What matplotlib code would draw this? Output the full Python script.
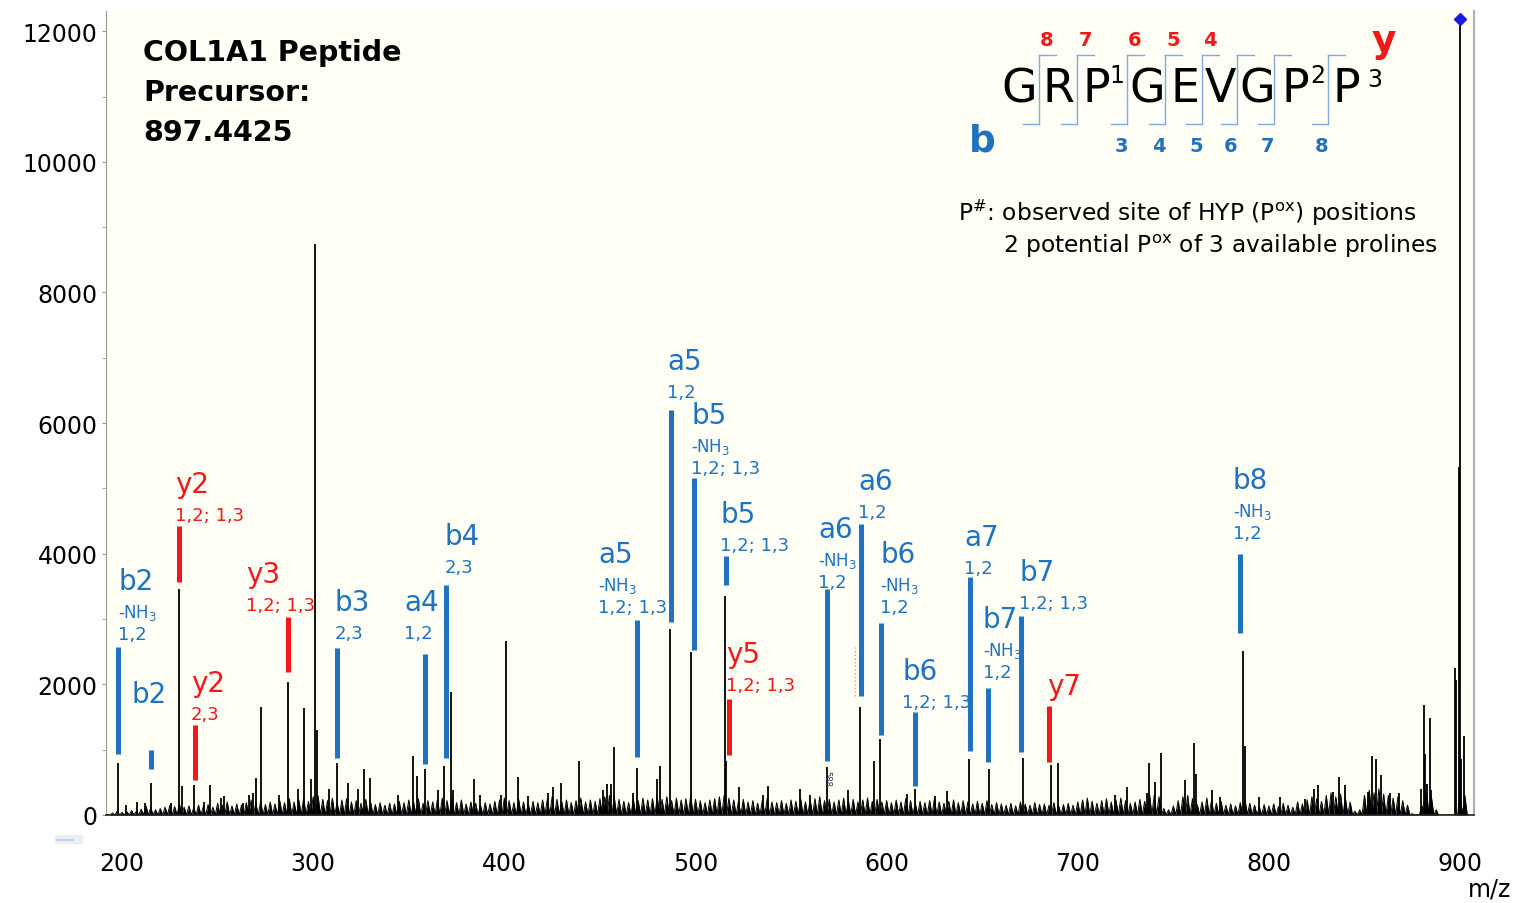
import numpy as np
import matplotlib
matplotlib.use("Agg")
import matplotlib.pyplot as plt
from matplotlib.lines import Line2D
from matplotlib.patches import Rectangle

plt.rcParams['font.family'] = ['DejaVu Sans']
plt.rcParams['mathtext.fontset'] = 'dejavusans'

W, H = 1515, 904

# centroided peaks
peak_mz = [197.8, 202.0, 208.0, 212.0, 214.9, 225.6, 229.8, 231.2, 237.9, 242.7,
           246.0, 251.8, 253.5, 263.2, 266.6, 268.4, 270.1, 272.7, 282.3, 286.7,
           292.0, 295.1, 298.9, 301.1, 301.9, 308.5, 312.2, 318.1, 323.7, 326.8,
           329.8, 344.3, 352.1, 354.4, 358.3, 365.2, 368.4, 372.2, 373.0, 384.2,
           387.3, 398.2, 400.8, 407.4, 412.6, 423.1, 425.3, 429.7, 439.3, 451.5,
           453.6, 455.9, 457.6, 467.2, 469.6, 479.8, 481.5, 486.9, 497.7, 515.2,
           516.2, 523.0, 535.5, 538.2, 554.8, 560.0, 568.8, 580.0, 586.1, 593.2,
           596.7, 610.6, 614.6, 625.4, 631.5, 643.3, 653.8, 671.4, 686.1, 689.4,
           719.6, 725.7, 736.2, 737.4, 740.5, 743.5, 755.9, 760.6, 761.6, 770.2,
           774.6, 786.7, 787.6, 794.6, 806.0, 819.1, 823.4, 825.7, 833.6, 836.7,
           839.9, 851.9, 854.0, 856.1, 858.9, 863.2, 867.9, 879.7, 880.9, 881.5,
           882.5, 884.1, 884.6, 897.4, 898.0, 899.3, 900.2, 900.6, 901.9]
peak_int = [800, 150, 200, 190, 490, 180, 3460, 450, 460, 200,
            460, 260, 290, 180, 310, 330, 570, 1660, 300, 2030,
            400, 1640, 550, 8740, 1300, 400, 800, 490, 400, 710,
            570, 310, 900, 600, 710, 380, 750, 1880, 380, 550,
            300, 300, 2660, 580, 290, 330, 430, 490, 820, 390,
            480, 480, 1040, 330, 720, 550, 750, 2850, 2500, 3350,
            820, 430, 310, 450, 400, 300, 740, 380, 1660, 820,
            1160, 320, 400, 290, 360, 850, 710, 880, 760, 790,
            310, 430, 330, 800, 500, 950, 530, 1100, 630, 380,
            280, 2510, 1060, 280, 270, 240, 400, 460, 350, 580,
            460, 350, 900, 850, 620, 330, 330, 400, 1690, 930,
            480, 1490, 380, 2250, 2060, 5330, 12190, 860, 1210]

# low-level background, one value every 2.5 m/z starting at 192.5
grass_start = 192.5
grass_step = 2.5
grass_int = [0, 30, 60, 40,
             50, 70, 60, 90, 140, 110, 80, 100,
             120, 150, 130, 170, 120, 140, 110, 150,
             130, 160, 120, 180, 150, 200, 140, 170,
             150, 190, 230, 180, 210, 160, 200, 170,
             220, 190, 250, 200, 230, 260, 210, 280,
             300, 240, 220, 260, 190, 230, 250, 200,
             220, 180, 240, 200, 160, 190, 150, 180,
             170, 210, 190, 230, 200, 250, 180, 220,
             200, 240, 260, 220, 250, 190, 230, 170,
             200, 180, 150, 190, 170, 210, 230, 260,
             220, 190, 240, 200, 170, 210, 190, 230,
             250, 280, 240, 210, 230, 190, 220, 260,
             200, 230, 210, 250, 280, 300, 270, 240,
             210, 190, 240, 220, 260, 230, 250, 270,
             240, 280, 220, 260, 230, 250, 300, 240,
             220, 190, 230, 250, 280, 300, 260, 230,
             210, 240, 200, 220, 180, 230, 250, 200,
             190, 220, 180, 230, 210, 250, 200, 230,
             250, 280, 220, 240, 200, 230, 260, 220,
             240, 200, 230, 260, 210, 240, 200, 220,
             190, 230, 200, 250, 220, 180, 210, 190,
             220, 250, 200, 180, 210, 230, 190, 220,
             200, 170, 210, 180, 220, 160, 190, 170,
             150, 180, 140, 200, 170, 150, 190, 160,
             170, 150, 190, 140, 160, 180, 150, 200,
             230, 260, 210, 180, 220, 250, 200, 230,
             260, 220, 180, 200, 240, 210, 330, 300,
             280, 100, 80, 140, 220, 280, 300, 250,
             160, 200, 260, 230, 180, 210, 150, 170,
             140, 190, 230, 180, 150, 120, 160, 140,
             170, 130, 180, 150, 120, 200, 170, 230,
             280, 250, 210, 300, 340, 280, 320, 260,
             200, 60, 80, 300, 380, 340, 400, 320,
             300, 260, 280, 220, 150, 20, 10, 150,
             350, 280, 80, 0, 0, 0, 0, 350,
             300, 0]

# fragment ion assignments
ion_name = ["b2", "b2", "y2", "y2", "y3", "b3", "a4", "b4", "a5", "a5", "b5",
            "b5", "y5", "a6", "a6", "b6", "b6", "a7", "b7", "b7", "y7", "b8"]
ion_nh3 = [True, False, False, False, False, False, False, False, True, False, True,
           False, False, True, False, True, False, False, True, False, False, True]
ion_sites = ["1,2", "", "1,2; 1,3", "2,3", "1,2; 1,3", "2,3", "1,2", "2,3",
             "1,2; 1,3", "1,2", "1,2; 1,3", "1,2; 1,3", "1,2; 1,3", "1,2", "1,2",
             "1,2", "1,2; 1,3", "1,2", "1,2", "1,2; 1,3", "", "1,2"]
ion_mz = [197.9, 215.2, 229.6, 238.0, 286.7, 312.3, 358.5, 369.4, 469.6, 487.2, 499.3,
          515.8, 517.6, 568.7, 586.5, 596.9, 614.9, 643.6, 653.2, 670.2, 685.1, 784.9]
bar_lo = [934, 704, 3572, 540, 2185, 873, 781, 873, 883, 2959, 2531,
          3526, 923, 831, 1817, 1229, 439, 984, 807, 960, 807, 2786]
bar_hi = [2567, 995, 4429, 1383, 3027, 2557, 2465, 3521, 2985, 6205, 5155,
          3961, 1776, 3460, 4455, 2940, 1572, 3639, 1940, 3051, 1664, 3996]
label_mz = [197.9, 205.2, 227.7, 236.1, 264.9, 311.4, 347.5, 368.5, 449.0, 485.1, 497.7,
            512.9, 516.0, 564.1, 585.0, 596.6, 608.1, 640.5, 650.4, 669.3, 683.9, 781.2]
label_int = [3583, 1853, 5068, 2021, 3690, 3261, 3261, 4271, 3996, 6951, 6124,
             4608, 2465, 4379, 5114, 3996, 2205, 4256, 3001, 3720, 1975, 5129]

x_ticks = [200, 300, 400, 500, 600, 700, 800, 900]
y_ticks = [0, 2000, 4000, 6000, 8000, 10000, 12000]

# peptide sequence with hydroxylation candidates
residues = ["G", "R", "P", "G", "E", "V", "G", "P", "P"]
hyp_marks = {2: "1", 7: "2", 8: "3"}
y_numbers = ["8", "7", "6", "5", "4"]
b_numbers = ["3", "4", "5", "6", "7", "8"]

BLUE = "#1e72c0"
RED = "#f01818"


def fpos(x, y):
    return x / W, 1 - y / H


fig = plt.figure(figsize=(W / 100, H / 100), dpi=100)
ax = fig.add_axes([106 / W, 1 - 816 / H, 1368 / W, 804 / H])
ax.set_facecolor("#fffff5")

# background grass as a filled sawtooth
gx = grass_start + grass_step * np.arange(len(grass_int))
saw_x = np.column_stack([gx - grass_step / 2, gx]).ravel()
saw_y = np.column_stack([np.zeros(len(gx)), grass_int]).ravel()
ax.fill_between(saw_x, saw_y, 0, color="black", lw=0)
ax.plot(saw_x, saw_y, color="black", lw=0.7)

ax.vlines(peak_mz, 0, peak_int, colors="black", lw=1.3)
ax.plot(peak_mz[peak_int.index(max(peak_int))], max(peak_int), "D",
        color="#1a1ae0", ms=6)

for i, name in enumerate(ion_name):
    c = RED if name.startswith("y") else BLUE
    ax.vlines(ion_mz[i], bar_lo[i], bar_hi[i], colors=c, lw=3.6)
    ax.text(label_mz[i], label_int[i], name, color=c, fontsize=20,
            ha="left", va="center")
    off = -22
    if ion_nh3[i]:
        ax.annotate("-NH$_3$", (label_mz[i], label_int[i]), xytext=(0, off),
                    textcoords="offset points", color=c, fontsize=12,
                    ha="left", va="center")
        off = -38
    if ion_sites[i]:
        ax.annotate(ion_sites[i], (label_mz[i], label_int[i]), xytext=(0, off),
                    textcoords="offset points", color=c, fontsize=13,
                    ha="left", va="center")

# leftover peak tags from the vendor software
ax.vlines(583.5, 1822, 2572, colors="#d8a070", linestyles=":", lw=1)
ax.text(568.7, 560, "588", rotation=-90, fontsize=6, color="#333355",
        ha="center", va="center")

ax.set_xlim(191.6, 907.3)
ax.set_ylim(0, 12310)
ax.set_xticks(x_ticks)
ax.set_yticks(y_ticks)
ax.set_yticks(np.arange(1000, 12001, 2000), minor=True)
ax.tick_params(axis="x", length=0, pad=26, labelsize=17)
ax.tick_params(axis="y", which="both", length=3, color="#999999",
               pad=3, labelsize=17)
ax.spines["top"].set_visible(False)
ax.spines["left"].set_color("#9a9a9a")
ax.spines["right"].set_color("#b0b0b0")
ax.spines["right"].set_linewidth(1.5)
ax.spines["bottom"].set_color("#222222")
ax.spines["bottom"].set_linewidth(1.2)

fig.text(*fpos(1490, 890), "m/z", fontsize=17, ha="center", va="center")

# precursor title
for k, line in enumerate(["COL1A1 Peptide", "Precursor:", "897.4425"]):
    fig.text(*fpos(143, 53 + 40 * k), line, fontsize=20.5, fontweight="bold",
             ha="left", va="center")

# peptide fragmentation map
residue_px = [1019, 1058, 1096, 1147, 1185, 1220, 1257, 1295, 1346]
cleave_px = [1039, 1077, 1127, 1165, 1202, 1237, 1274, 1328]
for r, x in zip(residues, residue_px):
    fig.text(*fpos(x, 90), r, fontsize=33, ha="center", va="center")
sup_px = {2: (1117, 76), 7: (1318, 76), 8: (1375, 80)}
for idx, mark in hyp_marks.items():
    fig.text(*fpos(*sup_px[idx]), mark, fontsize=17, ha="center", va="center")
bracket = "#82a8dc"
for x in cleave_px:
    fig.add_artist(Line2D([x / W, x / W], [1 - 56 / H, 1 - 125 / H],
                          transform=fig.transFigure, color=bracket, lw=1))
    fig.add_artist(Line2D([x / W, (x + 17) / W], [1 - 56 / H, 1 - 56 / H],
                          transform=fig.transFigure, color=bracket, lw=1))
    fig.add_artist(Line2D([(x - 16) / W, x / W], [1 - 125 / H, 1 - 125 / H],
                          transform=fig.transFigure, color=bracket, lw=1))
for num, x in zip(y_numbers, cleave_px[:5]):
    fig.text(*fpos(x + 8, 41), num, fontsize=14, fontweight="bold", color=RED,
             ha="center", va="center")
for num, x in zip(b_numbers, cleave_px[2:]):
    fig.text(*fpos(x - 6, 146), num, fontsize=14, fontweight="bold", color=BLUE,
             ha="center", va="center")
fig.text(*fpos(1384, 42), "y", fontsize=27, fontweight="bold", color=RED,
         ha="center", va="center")
fig.text(*fpos(982, 142), "b", fontsize=27, fontweight="bold", color=BLUE,
         ha="center", va="center")

fig.text(*fpos(958, 213), r"P$^{\#}$: observed site of HYP (P$^{\rm ox}$) positions",
         fontsize=16.8, ha="left", va="center")
fig.text(*fpos(1003, 246), r"2 potential P$^{\rm ox}$ of 3 available prolines",
         fontsize=16.8, ha="left", va="center")

fig.patches.append(Rectangle((55 / W, 1 - 844 / H), 27 / W, 8 / H,
                             transform=fig.transFigure, color="#eeeeee"))
fig.add_artist(Line2D([57 / W, 73 / W], [1 - 841 / H, 1 - 841 / H],
                      transform=fig.transFigure, color="#a8d0f0", lw=1.2))

fig.savefig("out.png", dpi=100)
